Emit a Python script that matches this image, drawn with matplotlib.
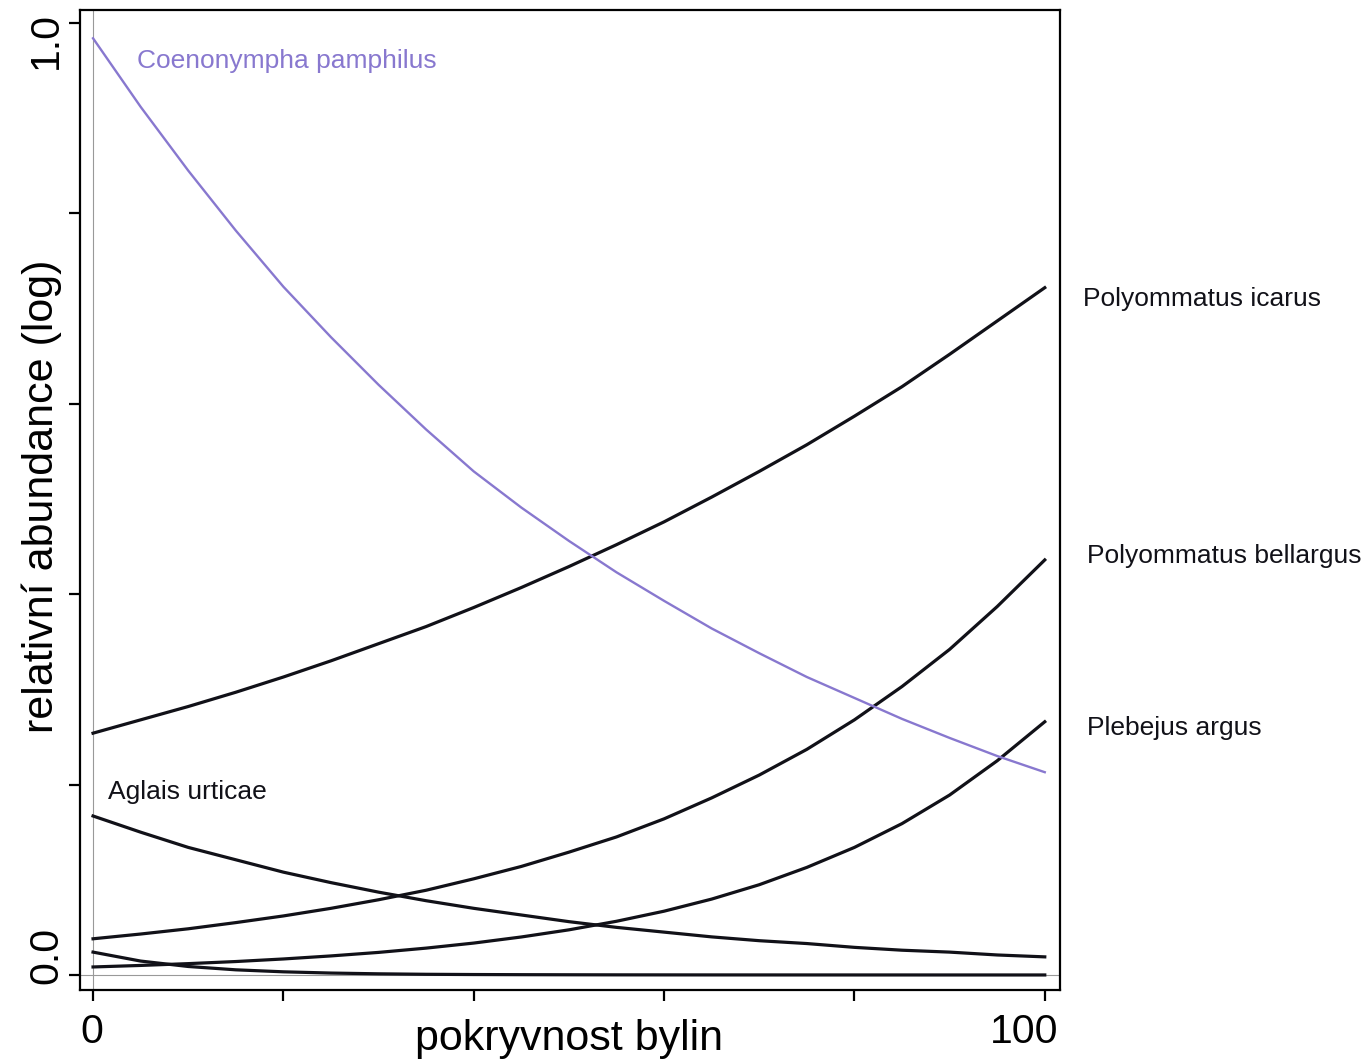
import matplotlib
matplotlib.use("Agg")
import matplotlib.pyplot as plt

plt.rcParams['font.family'] = ['Liberation Sans', 'DejaVu Sans']

# x: pokryvnost bylin (0-100)
x = [0, 5, 10, 15, 20, 25, 30, 35, 40, 45, 50, 55, 60, 65, 70, 75, 80, 85, 90, 95, 100]

coenonympha = [0.984, 0.912, 0.845, 0.782, 0.723, 0.670, 0.620, 0.573, 0.529, 0.491, 0.456,
               0.423, 0.393, 0.364, 0.338, 0.313, 0.291, 0.269, 0.249, 0.230, 0.213]
icarus = [0.254, 0.268, 0.282, 0.297, 0.313, 0.330, 0.348, 0.366, 0.386, 0.407, 0.429,
          0.452, 0.476, 0.502, 0.529, 0.557, 0.587, 0.618, 0.652, 0.687, 0.722]
bellargus = [0.038, 0.043, 0.0485, 0.055, 0.062, 0.070, 0.079, 0.089, 0.101, 0.114, 0.129,
             0.145, 0.164, 0.186, 0.210, 0.237, 0.268, 0.303, 0.342, 0.387, 0.436]
argus = [0.0084, 0.0100, 0.0119, 0.0141, 0.0168, 0.0200, 0.0237, 0.0282, 0.0335, 0.0399, 0.0474,
         0.0564, 0.0670, 0.0797, 0.0948, 0.113, 0.134, 0.159, 0.189, 0.225, 0.266]
aglais = [0.167, 0.150, 0.134, 0.121, 0.108, 0.097, 0.087, 0.078, 0.070, 0.063, 0.056,
          0.050, 0.045, 0.040, 0.036, 0.033, 0.029, 0.026, 0.024, 0.021, 0.019]
other = [0.024, 0.0146, 0.0089, 0.0054, 0.0033, 0.0020, 0.0012, 0.0007, 0.00045, 0.0003, 0.0002,
         0.00012, 0.00008, 0.00005, 0.00003, 0.00002, 0.00001, 0.00001, 0.0, 0.0, 0.0]

xticks = [0, 20, 40, 60, 80, 100]
yticks = [0.0, 0.2, 0.4, 0.6, 0.8, 1.0]

purple = '#8878CF'
black = '#111118'

fig = plt.figure(figsize=(13.68, 10.61), dpi=100)
ax = fig.add_axes([80 / 1368, 71 / 1061, 980 / 1368, 980 / 1061])
ax.set_xlim(-1.37, 101.6)
ax.set_ylim(-0.0158, 1.0137)

ax.axvline(0, color='#999999', lw=0.8, zorder=1)
ax.axhline(0, color='#999999', lw=0.8, zorder=1)

for s in [icarus, bellargus, argus, aglais, other]:
    ax.plot(x, s, color=black, lw=2.3, zorder=3)
ax.plot(x, coenonympha, color=purple, lw=1.7, zorder=4)

for sp in ax.spines.values():
    sp.set_linewidth(1.6)
    sp.set_color('black')

ax.set_xticks(xticks)
ax.set_yticks(yticks)
ax.set_xticklabels([])
ax.set_yticklabels([])
ax.tick_params(direction='out', length=8, width=1.6, color='black')

# tick labels (placed as in the original)
ax.text(-0.1, -0.0714, '0', fontsize=29.5, ha='center', va='baseline', clip_on=False)
ax.text(97.8, -0.0714, '100', fontsize=29.5, ha='center', va='baseline', clip_on=False)
ax.text(-3.78, 0.982, '1.0', fontsize=29.5, rotation=90, rotation_mode='anchor',
        ha='center', va='baseline', clip_on=False)
ax.text(-3.78, 0.021, '0.0', fontsize=29.5, rotation=90, rotation_mode='anchor',
        ha='center', va='baseline', clip_on=False)

# axis labels
ax.text(50.0, -0.0788, 'pokryvnost bylin', fontsize=31, ha='center', va='baseline', clip_on=False)
ax.text(-4.2, 0.503, 'relativní abundance (log)', fontsize=31, rotation=90,
        rotation_mode='anchor', ha='center', va='baseline', clip_on=False)

# species labels
fs = 19
ax.text(4.66, 0.9524, 'Coenonympha pamphilus', color=purple, fontsize=fs, va='baseline')
ax.text(1.61, 0.1849, 'Aglais urticae', color=black, fontsize=fs, va='baseline')
ax.text(103.98, 0.703, 'Polyommatus icarus', color=black, fontsize=fs, va='baseline', clip_on=False)
ax.text(104.4, 0.4325, 'Polyommatus bellargus', color=black, fontsize=fs, va='baseline', clip_on=False)
ax.text(104.4, 0.252, 'Plebejus argus', color=black, fontsize=fs, va='baseline', clip_on=False)

fig.savefig('out.png', dpi=100)
